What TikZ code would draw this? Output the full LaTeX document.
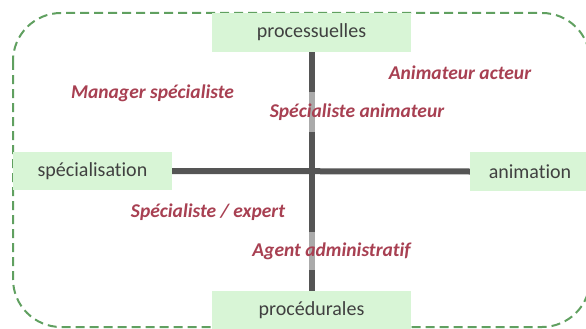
\documentclass[tikz,border=0pt]{standalone}
\usepackage{fontspec}
\setmainfont{Carlito}[Ligatures={NoCommon}]
\usepackage{xcolor}
\usepackage{tikz}
\usetikzlibrary{positioning,calc}
\definecolor{framegreen}{RGB}{96,160,96}
\definecolor{polefill}{RGB}{216,245,214}
\definecolor{poletext}{RGB}{64,64,64}
\definecolor{axisgray}{RGB}{85,85,85}
\definecolor{rolered}{RGB}{168,64,82}

\begin{document}
\begin{tikzpicture}[x=1pt, y=-1pt,
        pole/.style={rectangle, fill=polefill, text=poletext, minimum height=39pt, inner sep=0pt, font=\fontsize{20}{24}\selectfont},
        role/.style={rectangle, fill=white, fill opacity=0.5, text opacity=1, text=rolered, minimum height=40pt, inner sep=1pt, font=\fontsize{19.5}{23}\selectfont\bfseries\itshape},
        axis/.style={draw=axisgray, line width=6pt},
        frame/.style={draw=framegreen, line width=2pt, dash pattern=on 9pt off 5pt, rounded corners=48pt}]
        \useasboundingbox (0,0) rectangle (586,329);

        % dashed frame
        \draw [frame] (13,13) rectangle (590,327);

        % poles
        \node [pole, minimum width=199pt] (proc) at (311.5,32.5) {processuelles};
        \node [pole, minimum width=199pt] (proced) at (311.5,310.5) {procédurales};
        \node [pole, minimum width=159pt, minimum height=38pt] (spec) at (92.5,171) {spécialisation};
        \node [pole, minimum width=120pt] (anim) at (530,171.5) {animation};

        % axes
        \draw [axis] (proc.south) -- (proced.north);
        \draw [axis] (spec.east) -- (anim.west);

        % roles
        \node [role] (manager) at (152.5,93) {Manager spécialiste};
        \node [role] (animacteur) at (460,73) {Animateur acteur};
        \node [role] (specanim) at (357,112) {Spécialiste animateur};
        \node [role] (specexpert) at (208,212) {Spécialiste / expert};
        \node [role, minimum height=38pt] (agent) at (331.5,251) {Agent administratif};
\end{tikzpicture}
\end{document}
